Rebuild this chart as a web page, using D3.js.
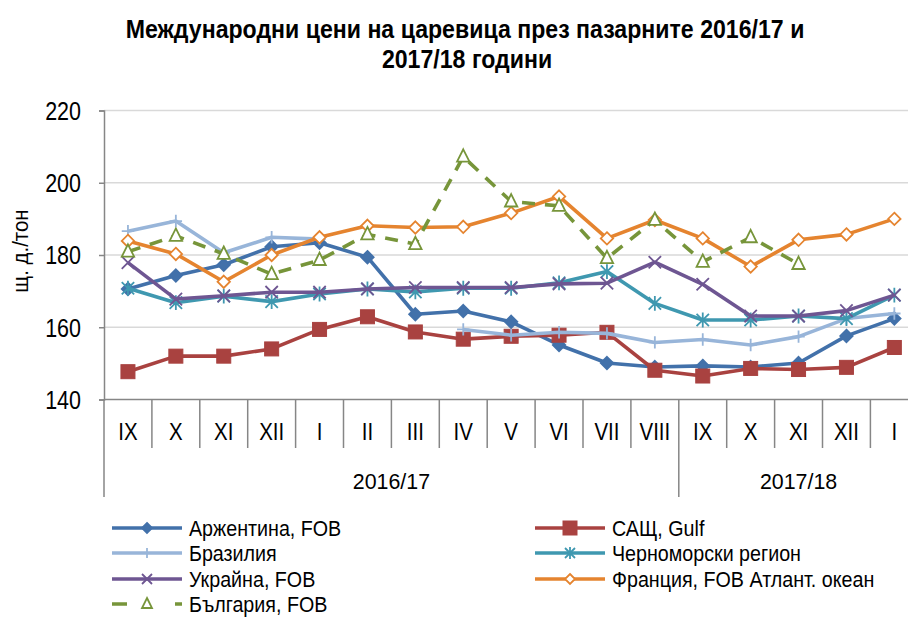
<!DOCTYPE html>
<html lang="bg">
<head>
<meta charset="utf-8">
<script src="https://d3js.org/d3.v7.min.js"></script>
<style>
  body { margin: 0; background: #fff; }
  text { font-family: "Liberation Sans", Arial, sans-serif; fill: #000; }
</style>
</head>
<body>
<script>
// categories
var months = ["IX","X","XI","XII","I","II","III","IV","V","VI","VII","VIII","IX","X","XI","XII","I"];
var seasonLabels = ["2016/17", "2017/18"];
var seasonSpans = [12, 5];
var yTicks = [140, 160, 180, 200, 220];

// series values (USD/t), null = no quote
var argentina = [170.6,174.3,177.3,182.3,183.4,179.4,163.6,164.5,161.5,155.1,150.1,149.0,149.3,149.0,150.1,157.6,162.4];
var usa       = [147.7,152.0,152.0,154.0,159.4,162.9,158.7,156.7,157.5,157.8,158.6,148.1,146.5,148.6,148.3,148.9,154.4];
var brazil    = [186.6,189.4,180.6,184.9,184.4,null,null,159.4,157.8,158.6,158.3,155.8,156.6,155.1,157.4,162.4,163.8];
var blackSea  = [170.8,166.8,168.6,167.1,169.2,170.6,169.8,170.8,170.8,172.3,175.4,166.6,162.0,162.0,163.1,162.4,168.9];
var ukraine   = [177.9,167.8,168.7,169.7,169.7,170.6,171.0,171.0,171.0,172.0,172.2,178.0,171.9,163.1,163.1,164.6,168.9];
var france    = [183.9,180.3,172.6,180.0,184.9,188.1,187.6,187.8,191.6,196.2,184.6,189.7,184.6,176.8,184.2,185.7,190.0];
var bulgaria  = [180.9,185.3,180.3,174.7,178.6,185.7,183.0,207.2,194.8,193.6,179.1,189.7,178.1,184.9,177.5,null,null];

var series = [
  {name: "Аржентина, FOB", values: argentina, color: "#4271aa", marker: "diamond"},
  {name: "САЩ, Gulf", values: usa, color: "#a94240", marker: "square"},
  {name: "Бразилия", values: brazil, color: "#98b5d9", marker: "plus"},
  {name: "Черноморски регион", values: blackSea, color: "#3f98b0", marker: "asterisk"},
  {name: "Украйна, FOB", values: ukraine, color: "#6e5692", marker: "cross"},
  {name: "Франция, FOB Атлант. океан", values: france, color: "#e5842f", marker: "odiamond"},
  {name: "България, FOB", values: bulgaria, color: "#77953a", marker: "triangle", dash: "13,10"}
];

var width = 908, height = 617;
var svg = d3.select("body").append("svg").attr("width", width).attr("height", height);

// text squeezed horizontally (the original uses a condensed face)
function ntext(g, x, y, str, size, sx, anchor) {
  return g.append("text")
    .attr("transform", `translate(${x},${y}) scale(${sx},1)`)
    .attr("text-anchor", anchor || "start")
    .style("font-size", size + "px")
    .text(str);
}

var x = d3.scaleBand().domain(d3.range(months.length)).range([104, 104 + 17 * 47.9]);
var y = d3.scaleLinear().domain([140, 220]).range([399.5, 110.5]);

// title
ntext(svg, 465, 38, "Международни цени на царевица през пазарните 2016/17 и", 25, 0.925, "middle").style("font-weight", "bold");
ntext(svg, 467, 68, "2017/18 години", 25, 0.925, "middle").style("font-weight", "bold");

// grid
svg.append("g").selectAll("line").data(yTicks.slice(1)).join("line")
  .attr("x1", 104).attr("x2", width).attr("y1", d => y(d)).attr("y2", d => y(d))
  .attr("stroke", "#d9d9d9").attr("stroke-width", 1.5);

// y axis
var yAxis = svg.append("g").attr("transform", "translate(104,0)")
  .call(d3.axisLeft(y).tickValues(yTicks).tickSize(5).tickPadding(23));
yAxis.select(".domain").attr("stroke", "#868686").attr("stroke-width", 1.5);
yAxis.selectAll(".tick line").attr("stroke", "#868686").attr("stroke-width", 1.5);
yAxis.selectAll(".tick text")
  .attr("x", null).attr("dy", "0.35em")
  .attr("transform", "translate(-23,0) scale(0.86,1)")
  .style("font-size", "25px").style("font-family", null);

svg.append("text").attr("transform", "translate(28,251) rotate(-90) scale(0.93,1)")
  .attr("text-anchor", "middle").style("font-size", "22px").text("щ. д./тон");

// x axis: months row and seasons row
var axisG = svg.append("g");
axisG.append("line").attr("x1", 104).attr("x2", width).attr("y1", 399.5).attr("y2", 399.5)
  .attr("stroke", "#868686").attr("stroke-width", 1.5);
axisG.selectAll(".sep").data(d3.range(months.length + 1)).join("line")
  .attr("x1", i => i < months.length ? x(i) : x(i - 1) + x.bandwidth())
  .attr("x2", i => i < months.length ? x(i) : x(i - 1) + x.bandwidth())
  .attr("y1", 399.5)
  .attr("y2", i => (i === 0 || i === seasonSpans[0]) ? 497 : 448)
  .attr("stroke", "#868686").attr("stroke-width", 1.5);
months.forEach(function (m, i) {
  ntext(axisG, x(i) + x.bandwidth() / 2, 440, m, 23, 0.89, "middle");
});
var start = 0;
seasonLabels.forEach(function (lab, k) {
  var a = x(start), b = x(start + seasonSpans[k] - 1) + x.bandwidth();
  ntext(axisG, (a + b) / 2, 489, lab, 23, 0.93, "middle");
  start += seasonSpans[k];
});

// markers
function drawMarker(g, type, color, size) {
  var s = size;
  if (type === "diamond" || type === "odiamond") {
    g.append("path").attr("d", `M0,${-s}L${s},0L0,${s}L${-s},0Z`)
      .attr("fill", type === "diamond" ? color : "#fff").attr("stroke", color).attr("stroke-width", 1.8);
  } else if (type === "square") {
    g.append("rect").attr("x", -s).attr("y", -s).attr("width", 2 * s).attr("height", 2 * s)
      .attr("fill", color).attr("stroke", color);
  } else if (type === "plus") {
    g.append("path").attr("d", `M${-s},0H${s}M0,${-s}V${s}`).attr("stroke", color).attr("stroke-width", 1.8);
  } else if (type === "cross") {
    g.append("path").attr("d", `M${-s},${-s}L${s},${s}M${-s},${s}L${s},${-s}`).attr("stroke", color).attr("stroke-width", 1.8);
  } else if (type === "asterisk") {
    g.append("path").attr("d", `M${-s},${-s}L${s},${s}M${-s},${s}L${s},${-s}M0,${-s * 1.2}V${s * 1.2}`)
      .attr("stroke", color).attr("stroke-width", 1.8);
  } else if (type === "triangle") {
    g.append("path").attr("d", `M0,${-s * 1.2}L${s},${s * 0.8}L${-s},${s * 0.8}Z`)
      .attr("fill", "#fff").attr("stroke", color).attr("stroke-width", 1.8);
  }
}

var line = d3.line().defined(d => d != null)
  .x((d, i) => x(i) + x.bandwidth() / 2).y(d => y(d));

series.forEach(function (s) {
  var g = svg.append("g");
  g.append("path").datum(s.values).attr("d", line)
    .attr("fill", "none").attr("stroke", s.color).attr("stroke-width", 3.6)
    .attr("stroke-linejoin", "round").attr("stroke-dasharray", s.dash || null);
  s.values.forEach(function (v, i) {
    if (v == null) return;
    var m = g.append("g").attr("transform", `translate(${x(i) + x.bandwidth() / 2},${y(v)})`);
    drawMarker(m, s.marker, s.color, s.marker === "square" ? 7 : 6.2);
  });
});

// legend
var legPos = [[112, 528], [535, 528], [112, 553], [535, 553], [112, 579], [535, 579], [112, 604]];
series.forEach(function (s, k) {
  var lx = legPos[k][0], ly = legPos[k][1];
  var g = svg.append("g");
  g.append("line").attr("x1", lx).attr("x2", lx + 70).attr("y1", ly).attr("y2", ly)
    .attr("stroke", s.color).attr("stroke-width", 3.6).attr("stroke-dasharray", s.dash ? "15,48,7,20" : null);
  var m = g.append("g").attr("transform", `translate(${lx + 35},${ly})`);
  drawMarker(m, s.marker, s.color, s.marker === "square" ? 7 : 5);
  ntext(g, lx + 77, ly + 8, s.name, 22, 0.895, "start");
});
</script>
</body>
</html>
